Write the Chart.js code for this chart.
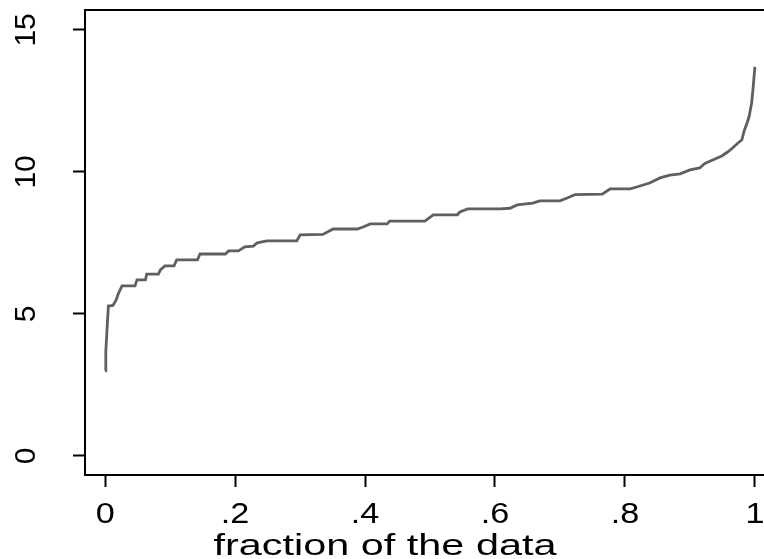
<!DOCTYPE html>
<html>
<head>
<meta charset="utf-8">
<script src="https://cdn.jsdelivr.net/npm/chart.js@4"></script>
<style>
  body { margin: 0; background: #fff; }
  canvas { display: block; }
</style>
</head>
<body>
<canvas id="chart" width="764" height="559"></canvas>
<script>
// quantile plot: fraction of the data vs sorted value
const fractions = [0, 0.001, 0.003, 0.005, 0.012, 0.017, 0.020, 0.026, 0.046, 0.049,
    0.062, 0.064, 0.082, 0.085, 0.092, 0.106, 0.110, 0.142, 0.146, 0.185,
    0.190, 0.205, 0.215, 0.228, 0.234, 0.249, 0.295, 0.300, 0.335, 0.351,
    0.388, 0.397, 0.408, 0.434, 0.438, 0.492, 0.505, 0.542, 0.546, 0.558,
    0.608, 0.623, 0.634, 0.658, 0.669, 0.700, 0.711, 0.723, 0.765, 0.777,
    0.808, 0.818, 0.838, 0.854, 0.869, 0.885, 0.900, 0.915, 0.923, 0.935,
    0.949, 0.958, 0.966, 0.974, 0.980, 0.983, 0.988, 0.991, 0.995, 0.997,
    0.9985, 1.0];
const quantiles = [3.0, 3.66, 4.5, 5.28, 5.30, 5.49, 5.70, 5.99, 5.99, 6.20,
    6.20, 6.40, 6.40, 6.55, 6.69, 6.69, 6.90, 6.90, 7.11, 7.11,
    7.22, 7.22, 7.36, 7.39, 7.50, 7.57, 7.57, 7.78, 7.80, 7.99,
    7.99, 8.06, 8.17, 8.17, 8.27, 8.27, 8.49, 8.49, 8.59, 8.70,
    8.70, 8.72, 8.84, 8.90, 8.98, 8.98, 9.08, 9.20, 9.22, 9.40,
    9.40, 9.47, 9.61, 9.79, 9.89, 9.93, 10.07, 10.14, 10.30, 10.42,
    10.56, 10.70, 10.85, 11.02, 11.13, 11.41, 11.73, 11.94, 12.43, 12.90,
    13.3, 13.7];

const xTicks = [0, 0.2, 0.4, 0.6, 0.8, 1];
const xTickLabels = ["0", ".2", ".4", ".6", ".8", "1"];
const yTicks = [0, 5, 10, 15];
const yTickLabels = ["0", "5", "10", "15"];
const xTitle = "fraction of the data";

const points = fractions.map((f, i) => ({ x: f, y: quantiles[i] }));

const FONT = '"Liberation Sans", Arial, Helvetica, sans-serif';

// stretched text, like the stata export
function stretchText(ctx, text, x, y, sx) {
    ctx.save();
    ctx.translate(x, y);
    ctx.scale(sx, 1);
    ctx.fillText(text, 0, 0);
    ctx.restore();
}

const framePlugin = {
    id: "frame",
    afterDraw(chart) {
        const ctx = chart.ctx;
        const area = chart.chartArea;
        const xs = chart.scales.x;
        const ys = chart.scales.y;
        ctx.save();
        // top edge of the plot region
        ctx.fillStyle = "#000";
        ctx.fillRect(area.left - 1, area.top - 1, area.right - area.left + 1, 2);

        ctx.textAlign = "center";
        ctx.textBaseline = "alphabetic";
        ctx.font = "29px " + FONT;
        xTicks.forEach((v, i) => {
            stretchText(ctx, xTickLabels[i], xs.getPixelForValue(v), 523, 1.18);
        });
        ctx.font = "30px " + FONT;
        yTicks.forEach((v, i) => {
            ctx.save();
            ctx.translate(35, ys.getPixelForValue(v));
            ctx.rotate(-Math.PI / 2);
            ctx.fillText(yTickLabels[i], 0, 0);
            ctx.restore();
        });
        ctx.font = "30px " + FONT;
        stretchText(ctx, xTitle, 385, 555, 1.38);
        ctx.restore();
    }
};

new Chart(document.getElementById("chart"), {
    type: "line",
    data: {
        datasets: [{
            data: points,
            borderColor: "#5f5f5f",
            borderWidth: 2.8,
            pointRadius: 0,
            tension: 0,
            fill: false
        }]
    },
    options: {
        responsive: false,
        animation: false,
        layout: { padding: { top: 10, right: 0, left: 0, bottom: 0 } },
        plugins: {
            legend: { display: false },
            tooltip: { enabled: false }
        },
        scales: {
            x: {
                type: "linear",
                min: -0.031,
                max: 1.014,
                afterBuildTicks: (scale) => { scale.ticks = xTicks.map(v => ({ value: v })); },
                afterFit: (scale) => { scale.height = 84; },
                ticks: { display: false },
                grid: { display: true, drawOnChartArea: false, drawTicks: true, tickLength: 12, color: "#000", tickWidth: 2 },
                border: { display: true, color: "#000", width: 2 }
            },
            y: {
                min: -0.67,
                max: 15.7,
                afterBuildTicks: (scale) => { scale.ticks = yTicks.map(v => ({ value: v })); },
                afterFit: (scale) => { scale.width = 85; },
                ticks: { display: false },
                grid: { display: true, drawOnChartArea: false, drawTicks: true, tickLength: 12, color: "#000", tickWidth: 2 },
                border: { display: true, color: "#000", width: 2 }
            }
        }
    },
    plugins: [framePlugin]
});
</script>
</body>
</html>
